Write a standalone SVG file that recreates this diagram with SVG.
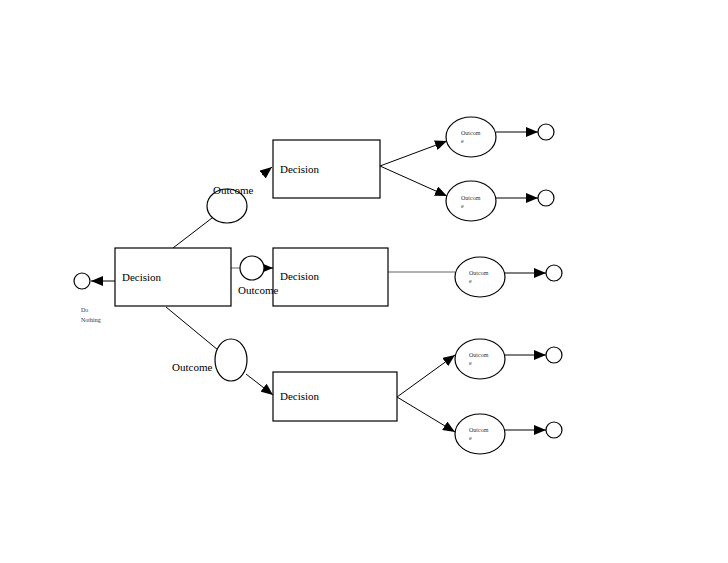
<svg xmlns="http://www.w3.org/2000/svg" width="728" height="563" viewBox="0 0 728 563">
<style>
.b{fill:#fff;stroke:#000;stroke-width:1.2}
.t{font-family:"Liberation Serif",serif;font-size:11px;fill:#000}
.s{font-family:"Liberation Serif",serif;font-size:6px;fill:#333}
.l{stroke:#000;stroke-width:1;fill:none}
.g{stroke:#999;stroke-width:1.5;fill:none}
</style>
<defs><marker id="a" markerWidth="12" markerHeight="10" refX="12" refY="5" orient="auto" markerUnits="userSpaceOnUse"><path d="M0,0L12,5L0,10z"/></marker></defs>
<rect width="728" height="563" fill="#fff"/>
<g id="connectors">
<line class="l" x1="115" y1="281" x2="91" y2="281" marker-end="url(#a)"/>
<line class="l" x1="173" y1="248" x2="212" y2="218"/>
<line class="l" x1="262" y1="175" x2="272" y2="167" marker-end="url(#a)"/>
<line class="g" x1="231" y1="268" x2="240" y2="268"/>
<line class="l" x1="262" y1="268" x2="273" y2="268" marker-end="url(#a)"/>
<line class="l" x1="166" y1="307" x2="218" y2="350"/>
<line class="l" x1="246" y1="374" x2="273" y2="395" marker-end="url(#a)"/>
<line class="l" x1="380" y1="166" x2="447" y2="141" marker-end="url(#a)"/>
<line class="l" x1="380" y1="166" x2="447" y2="196" marker-end="url(#a)"/>
<line class="g" x1="388" y1="272" x2="455" y2="272"/>
<line class="l" x1="397" y1="397" x2="455" y2="355" marker-end="url(#a)"/>
<line class="l" x1="397" y1="397" x2="455" y2="432" marker-end="url(#a)"/>
<line class="l" x1="496" y1="132" x2="538" y2="132" marker-end="url(#a)"/>
<line class="l" x1="496" y1="198" x2="538" y2="198" marker-end="url(#a)"/>
<line class="l" x1="505" y1="273" x2="546" y2="273" marker-end="url(#a)"/>
<line class="l" x1="505" y1="355" x2="546" y2="355" marker-end="url(#a)"/>
<line class="l" x1="505" y1="430" x2="546" y2="430" marker-end="url(#a)"/>
</g>
<g id="donothing"><circle class="b" cx="82" cy="281" r="8"/><text class="s" x="81" y="312">Do</text><text class="s" x="81" y="322">Nothing</text></g>
<g id="d0"><rect class="b" x="115" y="248" width="116" height="58"/><text class="t" x="122" y="281">Decision</text></g>
<g id="d1"><rect class="b" x="273" y="140" width="107" height="58"/><text class="t" x="280" y="173">Decision</text></g>
<g id="d2"><rect class="b" x="273" y="248" width="115" height="58"/><text class="t" x="280" y="280">Decision</text></g>
<g id="d3"><rect class="b" x="273" y="372" width="124" height="49"/><text class="t" x="280" y="400">Decision</text></g>
<g id="o1"><ellipse class="b" cx="227" cy="206" rx="20" ry="17"/><text class="t" x="213" y="194">Outcome</text></g>
<g id="o2"><circle class="b" cx="252" cy="268" r="12"/><text class="t" x="238" y="294">Outcome</text></g>
<g id="o3"><ellipse class="b" cx="231" cy="360" rx="16" ry="21"/><text class="t" x="172" y="371">Outcome</text></g>
<g id="c1"><ellipse class="b" cx="471" cy="137" rx="25" ry="20"/><text class="s" x="461" y="135">Outcom</text><text class="s" x="461" y="143">e</text></g>
<g id="c2"><ellipse class="b" cx="471" cy="201" rx="25" ry="20"/><text class="s" x="461" y="200">Outcom</text><text class="s" x="461" y="208">e</text></g>
<g id="c3"><ellipse class="b" cx="480" cy="277" rx="25" ry="20"/><text class="s" x="469" y="275">Outcom</text><text class="s" x="469" y="283">e</text></g>
<g id="c4"><ellipse class="b" cx="480" cy="359" rx="25" ry="20"/><text class="s" x="469" y="357">Outcom</text><text class="s" x="469" y="365">e</text></g>
<g id="c5"><ellipse class="b" cx="480" cy="434" rx="25" ry="20"/><text class="s" x="469" y="432">Outcom</text><text class="s" x="469" y="440">e</text></g>
<g id="e1"><circle class="b" cx="546" cy="132" r="8"/></g>
<g id="e2"><circle class="b" cx="546" cy="198" r="8"/></g>
<g id="e3"><circle class="b" cx="554" cy="273" r="8"/></g>
<g id="e4"><circle class="b" cx="554" cy="355" r="8"/></g>
<g id="e5"><circle class="b" cx="554" cy="430" r="8"/></g>
</svg>
